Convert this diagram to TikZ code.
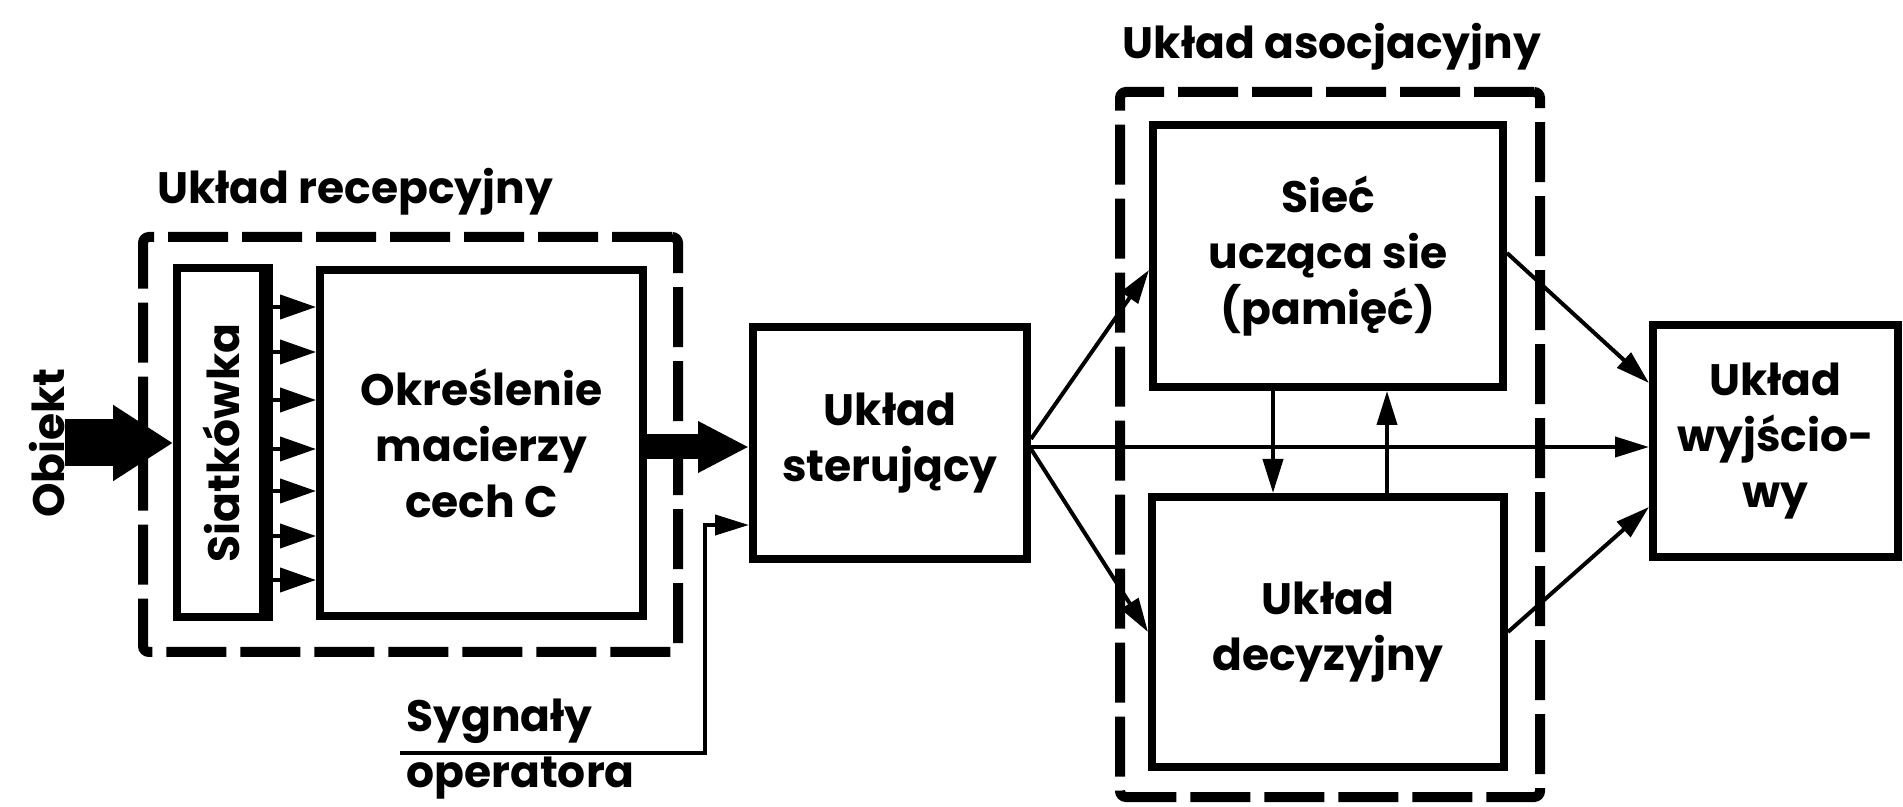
\documentclass[tikz,border=0pt]{standalone}
\usepackage{fontspec}
\setmainfont{Poppins}
\usetikzlibrary{arrows.meta}
\begin{document}
\begin{tikzpicture}[x=0.5pt,y=-0.5pt,
  font=\fontsize{22}{28}\selectfont\bfseries,
  box/.style={draw, line width=4pt, rectangle, align=center, inner sep=0pt},
  dbox/.style={draw, line width=5pt, dash pattern=on 30pt off 7pt, rounded corners=3pt},
  conn/.style={line width=2pt, -{Triangle[length=17pt,width=10pt]}},
  smallarr/.style={line width=2pt, -{Triangle[length=18pt,width=12pt]}},
  lbl/.style={inner sep=0pt}]
\fill[white] (0,0) rectangle (1903,807);
\useasboundingbox (0,0) rectangle (1903,807);

% dashed frames
\node[dbox, minimum width=267.5pt, minimum height=207.5pt] (recep) at (410.5,444.5) {};
\node[dbox, minimum width=210pt, minimum height=352.5pt] (assoc) at (1330,444.5) {};
\node[lbl] (recepL) at (355,192) {Układ recepcyjny};
\node[lbl] (assocL) at (1332,47) {Układ asocjacyjny};

% boxes
\node[box, minimum width=44pt, minimum height=174.5pt] (siat) at (221,442.5) {};
\node[lbl, rotate=90] (siatT) at (221,443) {Siatkówka};
\draw[line width=7pt] ([xshift=-1.5pt]siat.north east) -- ([xshift=-1.5pt]siat.south east);
\node[box, minimum width=161.5pt, minimum height=173pt] (okr) at (481.5,443) {Określenie\\macierzy\\cech C};
\node[box, minimum width=137pt, minimum height=116pt] (ster) at (890,443) {Układ\\sterujący};
\node[box, minimum width=175pt, minimum height=131pt] (siec) at (1328,256) {Sieć\\ucząca sie\\(pamięć)};
\node[box, minimum width=176pt, minimum height=135pt] (decy) at (1328,632) {Układ\\decyzyjny};
\node[box, minimum width=122.5pt, minimum height=116pt] (out) at (1775.5,441) {Układ\\wyjścio-\\wy};

% Obiekt
\node[lbl, rotate=90] (obj) at (47,443) {Obiekt};
\draw[line width=23.5pt, -{Triangle[length=30pt,width=36pt]}] (obj.south) -- (obj.south -| siat.west);

% retina arrows
\foreach \yy in {307,352,400,449,491,536,580}{
  \coordinate (t) at (0,\yy);
  \draw[smallarr] (siat.east |- t) -- (okr.west |- t);
}

% thick arrow to control
\coordinate (mid) at (0,447);
\draw[line width=12.5pt, -{Triangle[length=25.5pt,width=24pt]}] (okr.east |- mid) -- (ster.west |- mid);

% operator signals
\node[lbl, anchor=base west] (syg) at (406,732) {Sygnały};
\node[lbl, anchor=base west] (oper) at (406,788) {operatora};
\coordinate (sygL) at (400,753);
\coordinate (sygT) at (705,525);
\draw[conn] (sygL) -| (sygT) -- (sygT -| ster.west);

% from control
\draw[conn] ([yshift=2pt]ster.east) -- ([yshift=-7pt]siec.west);
\draw[conn] (ster.east |- mid) -- (out.west |- mid);
\draw[conn] ([yshift=-3pt]ster.east) -- (decy.west);

% between memory and decision
\draw[conn] ([xshift=-27.5pt]siec.south) -- ([xshift=-27.5pt]decy.north);
\draw[conn] ([xshift=29.5pt]decy.north) -- ([xshift=29.5pt]siec.south);

% to output
\draw[conn] ([yshift=1.5pt]siec.east) -- ([yshift=29pt]out.west);
\draw[conn] (decy.east) -- ([yshift=-33pt]out.west);
\end{tikzpicture}
\end{document}
